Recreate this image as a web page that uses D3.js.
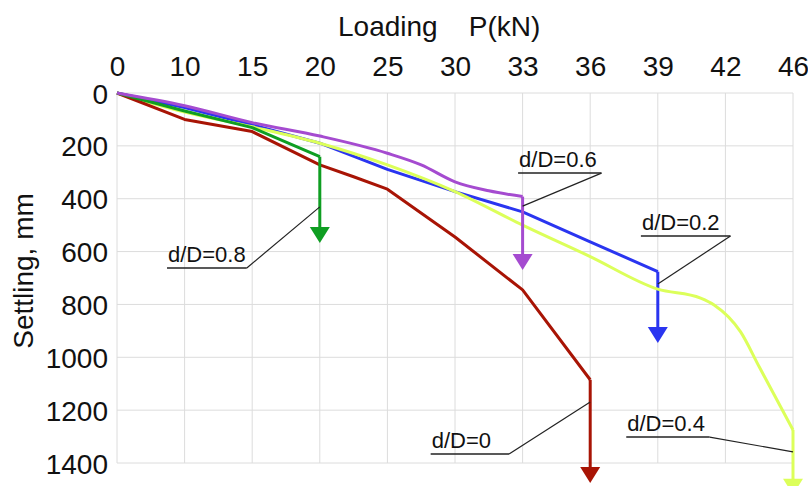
<!DOCTYPE html>
<html>
<head>
<meta charset="utf-8">
<script src="https://cdn.jsdelivr.net/npm/d3@7"></script>
<style>
  html, body { margin: 0; padding: 0; background: #fff; }
  text { font-family: "Liberation Sans", Arial, sans-serif; fill: #111; }
</style>
</head>
<body>
<script>
// ---------------------
// Data
// ---------------------
var loadTicks = [0, 10, 15, 20, 25, 30, 33, 36, 39, 42, 46];
var settleTicks = [0, 200, 400, 600, 800, 1000, 1200, 1400];

// d/D = 0
var redLoad   = [0, 10, 15, 20, 22.5, 25, 30, 33, 36];
var redSettle = [0, 100, 146, 272, 317, 364, 545, 745, 1085];
// d/D = 0.8
var greenLoad   = [0, 10, 15, 20];
var greenSettle = [0, 68, 131, 241];
// d/D = 0.6
var purpleLoad   = [0, 10, 15, 20, 25, 27.5, 30, 31.5, 33];
var purpleSettle = [0, 48, 112, 163, 228, 272, 336, 370, 392];
// d/D = 0.2
var blueLoad   = [0, 10, 15, 20, 25, 30, 33, 36, 39];
var blueSettle = [0, 55, 120, 190, 289, 373, 450, 563, 676];
// d/D = 0.4
var yellowLoad   = [0, 10, 15, 20, 25, 30, 33, 36, 39, 40.9, 41.5, 42.9, 44, 46];
var yellowSettle = [0, 72, 128, 190, 272, 373, 500, 619, 742, 776, 802, 904, 1036, 1275];

// failure arrows: settling value at the arrow tip
var arrowTips = { red: 1476, green: 568, purple: 670, blue: 946, yellow: 1520 };

// labels: text, underline start/end (load), underline settle, leader target (load, settle)
var labelNames  = ["d/D=0.8", "d/D=0.6", "d/D=0.2", "d/D=0", "d/D=0.4"];
var labelFrom   = [7.4, 32.8, 38.25, 28.2, 37.6];
var labelTo     = [14.6, 36.5, 42.3, 32.4, 41.3];
var labelSettle = [662, 303, 541, 1366, 1302];
var leaderLoad  = [20, 33, 39, 36, 46];
var leaderSettle= [431, 428, 723, 1169, 1358];

// ---------------------
// Chart
// ---------------------
var w = 808, h = 486;
var mLeft = 117, mRight = 793, mTop = 93, mBottom = 463;

var svg = d3.select("body").append("svg")
  .attr("width", w).attr("height", h);

var step = (mRight - mLeft) / (loadTicks.length - 1);
var x = d3.scaleLinear()
  .domain(loadTicks)
  .range(loadTicks.map(function(d, i){ return mLeft + i * step; }));

var y = d3.scaleLinear().domain([0, 1400]).range([mTop, mBottom]);

// grid
var grid = svg.append("g").attr("class", "grid");
grid.selectAll("line.v")
  .data(loadTicks).enter().append("line")
  .attr("class", "v")
  .attr("x1", function(d){ return x(d); }).attr("x2", function(d){ return x(d); })
  .attr("y1", mTop).attr("y2", mBottom)
  .attr("stroke", "#dcdcdc").attr("stroke-width", 1);
grid.selectAll("line.h")
  .data(settleTicks).enter().append("line")
  .attr("class", "h")
  .attr("x1", mLeft).attr("x2", mRight)
  .attr("y1", function(d){ return y(d); }).attr("y2", function(d){ return y(d); })
  .attr("stroke", "#dcdcdc").attr("stroke-width", 1);

// axes (labels only)
var xAxis = svg.append("g")
  .attr("transform", "translate(0," + (mTop - 17) + ")")
  .call(d3.axisTop(x).tickValues(loadTicks).tickSize(0).tickPadding(0).tickFormat(d3.format("d")));
var yAxis = svg.append("g")
  .attr("transform", "translate(" + (mLeft - 9) + ",0)")
  .call(d3.axisLeft(y).tickValues(settleTicks).tickSize(0).tickPadding(0).tickFormat(d3.format("d")));
[xAxis, yAxis].forEach(function(a){
  a.select(".domain").remove();
  a.selectAll("text").style("font-size", "28px")
    .style("font-family", "'Liberation Sans', Arial, sans-serif").attr("fill", "#111");
});
xAxis.selectAll("text").attr("dy", "0");
yAxis.selectAll("text").attr("dy", "0.36em");

// axis titles
svg.append("text")
  .attr("x", 338).attr("y", 36)
  .style("font-size", "28px").style("white-space", "pre")
  .text("Loading    P(kN)");
svg.append("text")
  .attr("transform", "translate(33,271) rotate(-90)")
  .attr("text-anchor", "middle")
  .style("font-size", "28px")
  .text("Settling, mm");

// curves
var series = [
  { key: "blue",   load: blueLoad,   settle: blueSettle,   color: "#2a35f0", curve: d3.curveLinear },
  { key: "yellow", load: yellowLoad, settle: yellowSettle, color: "#dcff5a", curve: d3.curveMonotoneX },
  { key: "red",    load: redLoad,    settle: redSettle,    color: "#a81405", curve: d3.curveLinear },
  { key: "green",  load: greenLoad,  settle: greenSettle,  color: "#0f9e22", curve: d3.curveLinear },
  { key: "purple", load: purpleLoad, settle: purpleSettle, color: "#a54bd0", curve: d3.curveMonotoneX }
];

series.forEach(function(s){
  var pts = s.load.map(function(d, i){ return [d, s.settle[i]]; });
  var line = d3.line()
    .x(function(d){ return x(d[0]); })
    .y(function(d){ return y(d[1]); })
    .curve(s.curve);
  svg.append("path")
    .datum(pts)
    .attr("fill", "none")
    .attr("stroke", s.color)
    .attr("stroke-width", 3)
    .attr("stroke-linejoin", "round")
    .attr("d", line);

  // arrow down at failure load
  var last = pts[pts.length - 1];
  var ax = x(last[0]);
  var tip = y(arrowTips[s.key]);
  var headH = 16, headW = 10;
  svg.append("line")
    .attr("x1", ax).attr("x2", ax)
    .attr("y1", y(last[1])).attr("y2", tip - headH + 1)
    .attr("stroke", s.color).attr("stroke-width", 3);
  svg.append("path")
    .attr("d", "M" + (ax - headW) + "," + (tip - headH) + "L" + (ax + headW) + "," + (tip - headH) + "L" + ax + "," + tip + "Z")
    .attr("fill", s.color);
});

// labels with leader lines
labelNames.forEach(function(name, i){
  var ly = y(labelSettle[i]);
  var x1 = x(labelFrom[i]), x2 = x(labelTo[i]);
  svg.append("text")
    .attr("x", x1 + 1).attr("y", ly - 6)
    .style("font-size", "22px")
    .text(name);
  svg.append("line")
    .attr("x1", x1).attr("x2", x2).attr("y1", ly).attr("y2", ly)
    .attr("stroke", "#222").attr("stroke-width", 1.5);
  svg.append("line")
    .attr("x1", x2).attr("y1", ly)
    .attr("x2", x(leaderLoad[i])).attr("y2", y(leaderSettle[i]))
    .attr("stroke", "#222").attr("stroke-width", 1.2);
});
</script>
</body>
</html>
